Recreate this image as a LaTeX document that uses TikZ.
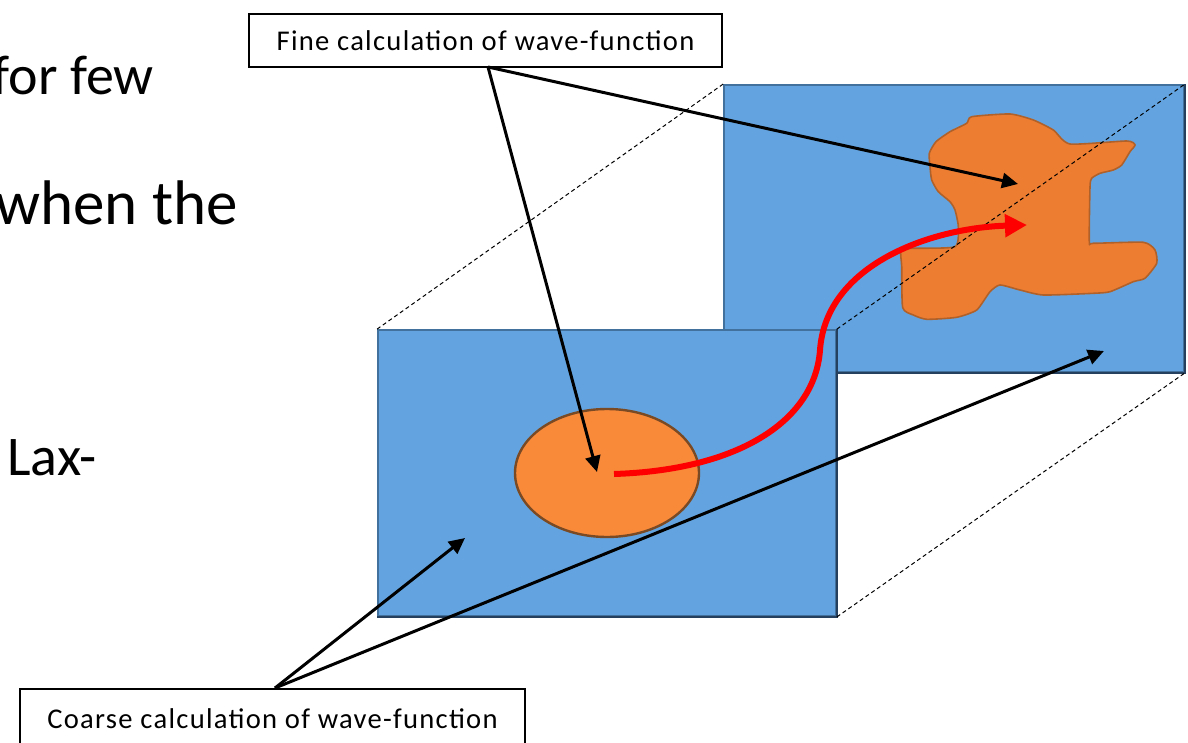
\documentclass[tikz,border=0pt]{standalone}
\usepackage{fontspec}
\setmainfont{Carlito}
\newfontfamily\labelfont[LetterSpace=4.5]{Carlito}
\usetikzlibrary{arrows.meta,shapes.geometric}
\definecolor{panelblue}{HTML}{63A4E0}
\definecolor{paneledge}{HTML}{41719C}
\definecolor{paneldark}{HTML}{24405E}
\definecolor{blobfill}{HTML}{ED7D31}
\definecolor{blobedge}{HTML}{B0612A}
\definecolor{ellfill}{HTML}{F98A3A}
\definecolor{elledge}{HTML}{7A4A25}
\begin{document}
\begin{tikzpicture}[x=0.5pt,y=-0.5pt,
  panel/.style={draw=paneledge, fill=panelblue, line width=0.9pt, inner sep=0pt, rectangle},
  labelbox/.style={draw=black, line width=0.9pt, fill=white, inner sep=0pt, font=\labelfont\fontsize{14.3}{17}\selectfont},
  bigtext/.style={font=\fontsize{28}{34}\selectfont, inner sep=0pt},
  pointer/.style={draw=black, line width=1.5pt, -{Triangle[length=8pt,width=7.5pt]}},
  guide/.style={draw=black, line width=0.5pt, dash pattern=on 2pt off 1.5pt},
  flow/.style={draw=red, line width=3pt, -{Triangle[length=11pt,width=11pt]}},
  shadowedge/.style={draw=paneldark, line width=1.1pt}]
\useasboundingbox (0,0) rectangle (1188,743);
\clip (0,0) rectangle (1188,743);

% left text fragments
\node[bigtext, anchor=base east] (t1) at (154,95) {for few};
\node[bigtext, anchor=base east, font=\fontsize{31.5}{36}\selectfont] (t2) at (238,225) {when the};
\node[bigtext, anchor=base west] (t3) at (7,475) {Lax-};

% back panel
\node[panel, minimum width=230pt, minimum height=143.5pt] (back) at (954,228.5) {};
\draw[shadowedge] (back.north east) -- (back.south east) -- (back.south west);

% irregular blob
\draw[draw=blobedge, fill=blobfill, line width=0.8pt]
  plot[smooth cycle, tension=0.35] coordinates {
  (971.7,116.7) (1010,114) (1033.3,120) (1053.3,130) (1070,144) (1126.7,141)
  (1135,145) (1130,151.7) (1121.7,165) (1113.3,170) (1100,173.3) (1091.7,178.3)
  (1090,186.7) (1089.3,241.7) (1093.3,243.3) (1143.3,242.3) (1155,250) (1156.7,263.3)
  (1145,278.3) (1133.3,281.7) (1110,291.7) (1093.3,293.3) (1043.3,295) (1020,290)
  (1000,285) (990,291.7) (976.7,310) (956.7,317.3) (926.7,319.3) (913.3,315)
  (902.7,307.7) (901.7,266.7) (901,250) (913.3,248.3) (955,246.7) (958.3,226.7)
  (955,210) (950,201.7) (938.3,191.7) (931.7,180) (930,166.7) (929.3,153.3)
  (936,141.7) (950,131.7) (966.7,123.3)};

% front panel
\node[panel, minimum width=229pt, minimum height=143pt] (front) at (607,473) {};
\draw[shadowedge] (front.north east) -- (front.south east) -- (front.south west);

% dashed guides
\draw[guide] (front.north west) -- (back.north west);
\draw[guide] (front.north east) -- (back.north east);
\draw[guide] (front.south east) -- (back.south east);

% ellipse
\node[ellipse, draw=elledge, fill=ellfill, line width=1.2pt, inner sep=0pt,
      minimum width=92pt, minimum height=64pt] (ell) at (607,473) {};

% red evolution curve
\coordinate (rs) at (614,474);
\coordinate (rm) at (820,350);
\coordinate (re) at (1027,225);
\draw[flow] (rs) .. controls (740,470) and (815,420) .. (rm)
               .. controls (826,265) and (930,228) .. (re);

% label boxes
\node[labelbox, minimum width=236.5pt, minimum height=26.5pt] (fine) at (485.5,40.5)
  {Fine calculation of wave-function};
\node[labelbox, minimum width=252.5pt, minimum height=30pt] (coarse) at (272.5,719)
  {Coarse calculation of wave-function};

% pointer targets
\coordinate (fineA) at (597,472);
\coordinate (fineB) at (1018,184);
\coordinate (coarseA) at (465,538);
\coordinate (coarseB) at (1104,351);
\coordinate (fs) at (488,67);
\coordinate (cs) at (275,688);

\draw[pointer] (fs) -- (fineA);
\draw[pointer] (fs) -- (fineB);
\draw[pointer] (cs) -- (coarseA);
\draw[pointer] (cs) -- (coarseB);
\end{tikzpicture}
\end{document}
